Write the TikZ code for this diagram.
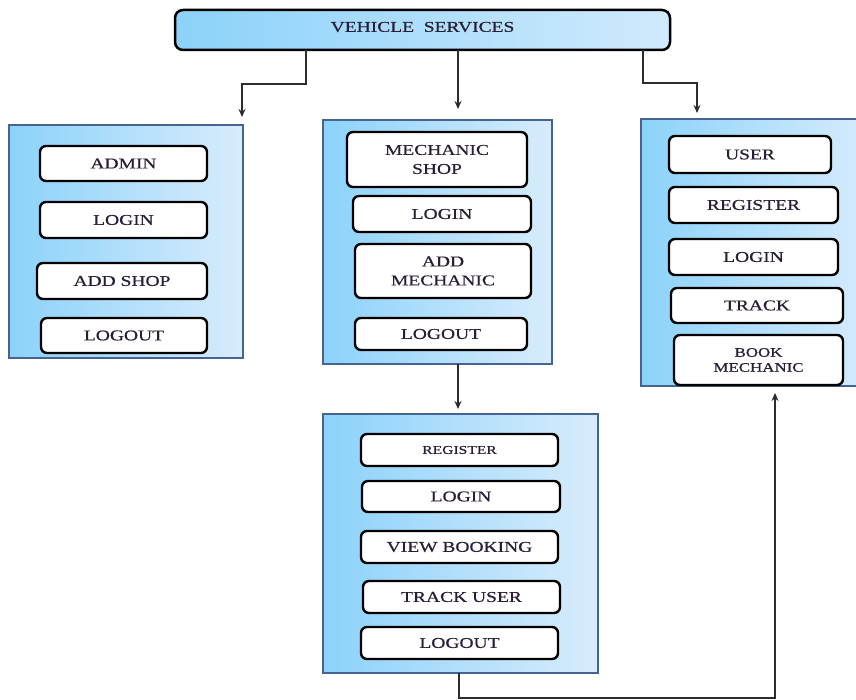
\documentclass[tikz,border=0pt]{standalone}
\usepackage{fontspec}
\setmainfont{Liberation Serif}[FakeStretch=1.3,FakeBold=0.5]
\usetikzlibrary{arrows.meta}
\definecolor{pnlL}{RGB}{140,210,250}
\definecolor{pnlR}{RGB}{216,236,252}
\definecolor{pnlB}{RGB}{70,100,145}
\definecolor{txt}{RGB}{40,30,55}
\definecolor{lnk}{RGB}{45,45,45}
\tikzset{
  sz/.style 2 args={minimum width=#1pt, minimum height=#2pt},
  panel/.style={draw=pnlB, line width=2pt, left color=pnlL, right color=pnlR, inner sep=0pt},
  topbox/.style={draw=black, line width=2.5pt, rounded corners=8pt, left color=pnlL, right color={rgb,255:red,208;green,234;blue,252}, inner sep=0pt, text=txt, font=\fontsize{15}{18}\selectfont},
  item/.style={draw=black, line width=2.4pt, fill=white, rounded corners=6pt, inner sep=0pt, align=center, text=txt, font=\fontsize{15}{19}\selectfont},
  conn/.style={draw=lnk, line width=1.5pt, -{Stealth[length=8pt,width=7pt]}},
}
\begin{document}
\begin{tikzpicture}[x=1pt,y=-1pt]
\useasboundingbox (0,0) rectangle (856,700);
\clip (0,0) rectangle (856,700);
% top
\node[topbox, sz={495}{40}] (top) at (422.5,30) {};
\node[text=txt, font=\fontsize{15}{18}\selectfont] (toplbl) at (422.5,27) {VEHICLE\ \ SERVICES};
% panels
\node[panel, sz={234}{233}] (pA) at (126,241.5) {};
\node[panel, sz={229}{244}] (pM) at (437.5,242) {};
\node[panel, sz={275}{259}] (pB) at (460.5,543.5) {};
\node[panel, sz={232}{267}] (pU) at (757,252.5) {};
% admin items
\node[item, sz={167}{35}] (a1) at (123.5,163.5) {ADMIN};
\node[item, sz={167}{36}] (a2) at (123.5,220) {LOGIN};
\node[item, sz={170}{36}] (a3) at (122,281) {ADD SHOP};
\node[item, sz={166}{35}] (a4) at (124,335.5) {LOGOUT};
% mechanic shop items
\node[item, sz={180}{55}] (m1) at (437,159.5) {MECHANIC\\SHOP};
\node[item, sz={178}{36}] (m2) at (442,214) {LOGIN};
\node[item, sz={176}{54}] (m3) at (443,271) {ADD\\MECHANIC};
\node[item, sz={172}{32}] (m4) at (441,334) {LOGOUT};
% mechanic items
\node[item, sz={197}{32}, font=\fontsize{12}{14}\selectfont] (b1) at (459.5,450) {REGISTER};
\node[item, sz={198}{31}] (b2) at (461,496.5) {LOGIN};
\node[item, sz={197}{32}] (b3) at (459.5,547) {VIEW BOOKING};
\node[item, sz={197}{32}] (b4) at (461.5,597) {TRACK USER};
\node[item, sz={197}{32}] (b5) at (459.5,643) {LOGOUT};
% user items
\node[item, sz={162}{37}] (u1) at (750,154.5) {USER};
\node[item, sz={169}{36}] (u2) at (753.5,205) {REGISTER};
\node[item, sz={169}{36}] (u3) at (753.5,257) {LOGIN};
\node[item, sz={172}{35}] (u4) at (757,305.5) {TRACK};
\node[item, sz={169}{50}, font=\fontsize{13}{15}\selectfont] (u5) at (758.5,360) {BOOK\\MECHANIC};
% connector points
\coordinate (s1) at (306,50);
\coordinate (j1) at (242,84);
\coordinate (e1) at (242,117);
\coordinate (s2) at (458,50);
\coordinate (e2) at (458,109);
\coordinate (s3) at (643,50);
\coordinate (j3) at (697,83);
\coordinate (e3) at (697,113);
\coordinate (s4) at (458,364);
\coordinate (e4) at (458,409);
\coordinate (s5) at (459,673);
\coordinate (j5) at (775,698);
\coordinate (e5) at (775,393);
\draw[conn] (s1) |- (j1) -- (e1);
\draw[conn] (s2) -- (e2);
\draw[conn] (s3) |- (j3) -- (e3);
\draw[conn] (s4) -- (e4);
\draw[conn] (s5) |- (j5) -- (e5);
\end{tikzpicture}
\end{document}
